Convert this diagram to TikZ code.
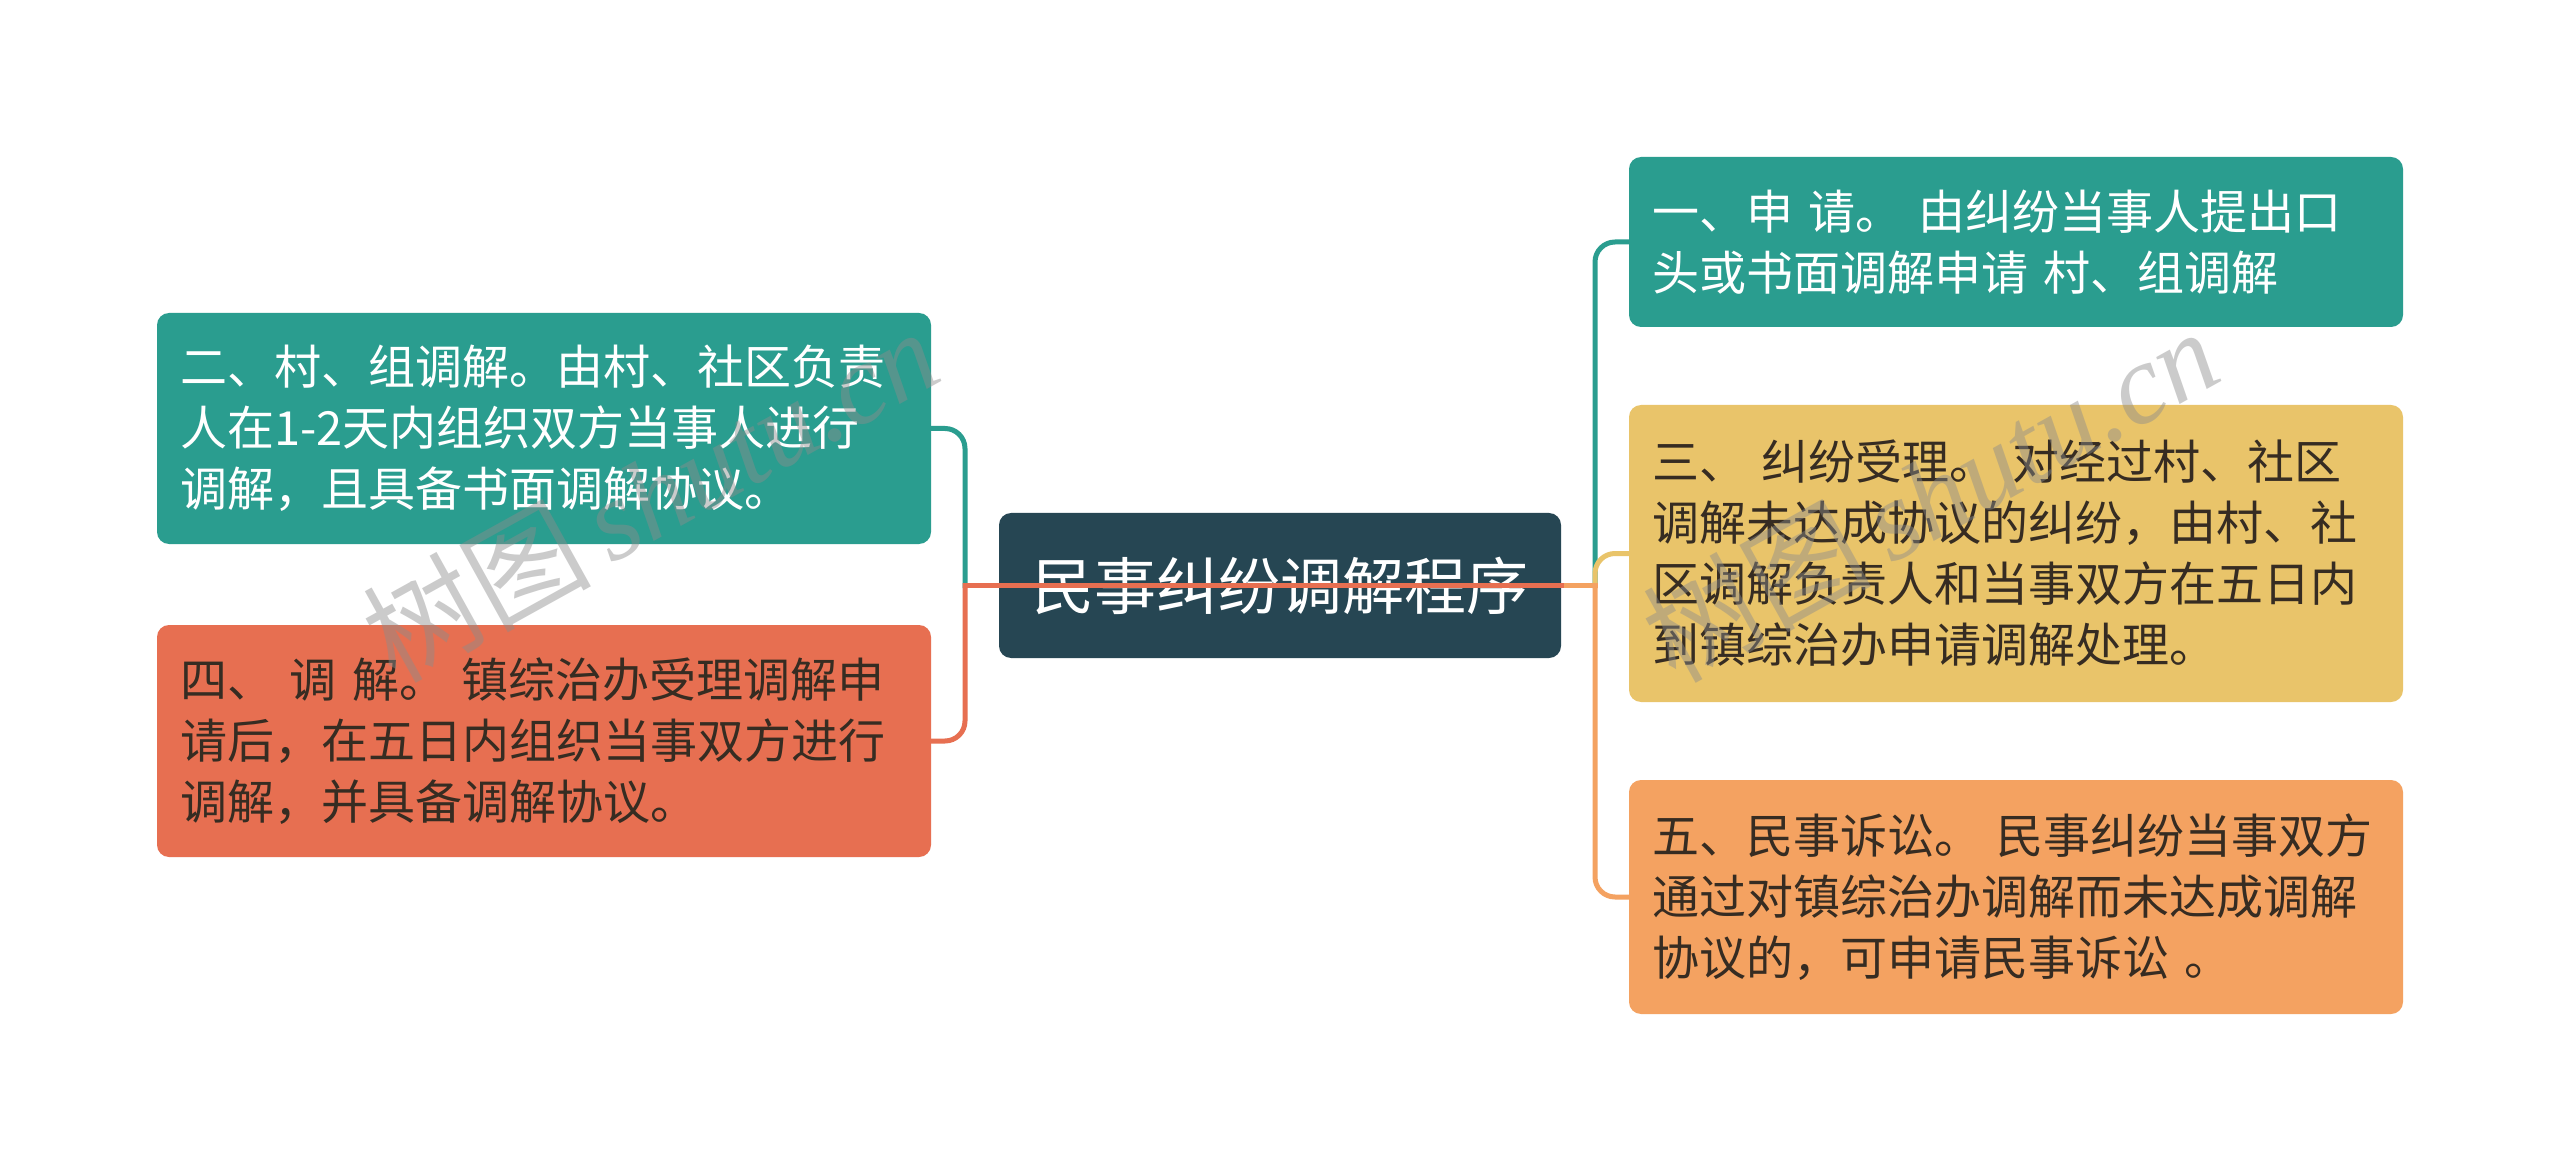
\documentclass[tikz,border=0pt]{standalone}
\usepackage{fontspec}
\setmainfont{Noto Sans CJK SC}
\newfontfamily\cjk{Noto Sans CJK SC}
\newfontfamily\wmserif{Liberation Serif}
\definecolor{cdark}{HTML}{264653}
\definecolor{cteal}{HTML}{2A9D8F}
\definecolor{cyel}{HTML}{E9C46A}
\definecolor{corg}{HTML}{F4A261}
\definecolor{cred}{HTML}{E76F51}
\definecolor{ctxt}{HTML}{362C22}
\tikzset{
  box/.style={rectangle, rounded corners=6pt, inner xsep=11.5pt, inner ysep=0pt,
    text width=364pt, align=left, font=\cjk\fontsize{23.5pt}{30.5pt}\selectfont},
  rootbox/.style={rectangle, rounded corners=6pt, fill=cdark, text=white,
    minimum width=281pt, minimum height=72.5pt, inner sep=0pt,
    font=\cjk\fontsize{31pt}{36pt}\selectfont},
  conn/.style={line width=2.5pt, line cap=rect},
  wmark/.style={rotate=29, text=black!45, opacity=0.45,
    font=\fontsize{57pt}{60pt}\selectfont}
}
\begin{document}
\begin{tikzpicture}[x=0.5pt,y=-0.5pt]
\useasboundingbox[fill=white] (0,0) rectangle (2560,1171);

% central node
\node[rootbox] (root) at (1280,585.5) {民事纠纷调解程序};

% left boxes
\node[box, fill=cteal, text=white, minimum height=115.5pt] (b2) at (544,428.5)
  {二、村、组调解。由村、社区负责\\人在1-2天内组织双方当事人进行\\调解，且具备书面调解协议。};
\node[box, fill=cred, text=ctxt, minimum height=116pt] (b4) at (544,741)
  {四、 调 解。 镇综治办受理调解申\\请后，在五日内组织当事双方进行\\调解，并具备调解协议。};

% right boxes
\node[box, fill=cteal, text=white, minimum height=85pt] (b1) at (2016,242)
  {一、申 请。 由纠纷当事人提出口\\头或书面调解申请 村、组调解};
\node[box, fill=cyel, text=ctxt, minimum height=148.5pt] (b3) at (2016,553.5)
  {三、 纠纷受理。 对经过村、社区\\调解未达成协议的纠纷，由村、社\\区调解负责人和当事双方在五日内\\到镇综治办申请调解处理。};
\node[box, fill=corg, text=ctxt, minimum height=117pt] (b5) at (2016,897)
  {五、民事诉讼。 民事纠纷当事双方\\通过对镇综治办调解而未达成调解\\协议的，可申请民事诉讼 。};

% junctions
\coordinate (jl) at (965,585.5);
\coordinate (jr) at (1595,585.5);

% right connectors
\draw[conn, cteal] (root.west) -- (jr);
\draw[conn, cteal, rounded corners=10pt] (jr) |- (b1.west);
\draw[conn, cyel] (root.west) -- (jr);
\draw[conn, cyel, rounded corners=10pt] (jr) |- (b3.west);
\draw[conn, corg] (root.west) -- (jr);
\draw[conn, corg, rounded corners=10pt] (jr) |- (b5.west);

% left connectors
\draw[conn, cteal] (root.east) -- (jl);
\draw[conn, cteal, rounded corners=10pt] (jl) |- (b2.east);
\draw[conn, cred] (root.east) -- (jl);
\draw[conn, cred, rounded corners=10pt] (jl) |- (b4.east);

% watermarks
\node[wmark] (wm1) at (650,494) {\cjk 树图\,{\wmserif\itshape shutu.cn}};
\node[wmark] (wm2) at (1930,494) {\cjk 树图\,{\wmserif\itshape shutu.cn}};
\end{tikzpicture}
\end{document}
